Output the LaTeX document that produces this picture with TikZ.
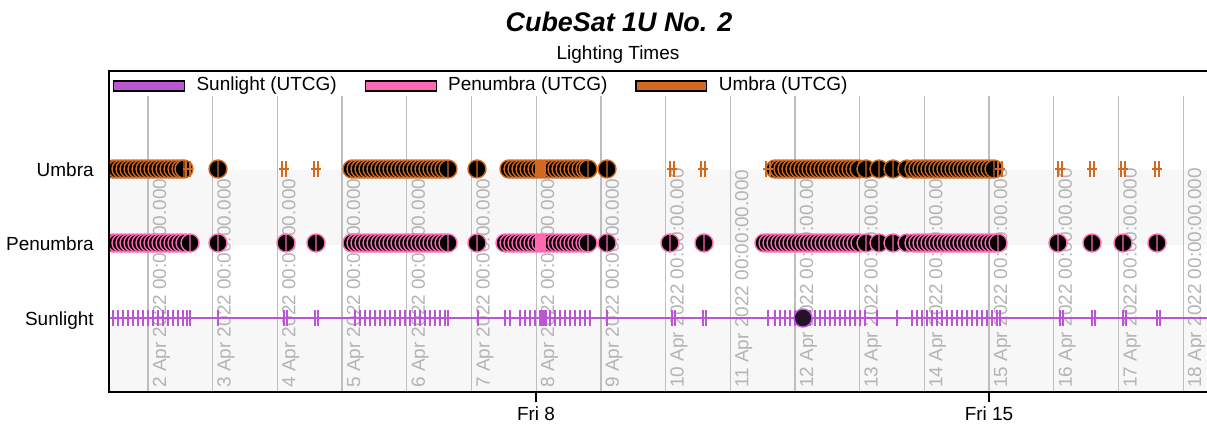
\documentclass[tikz,border=0pt]{standalone}
\usepackage{fontspec}
\setmainfont{Liberation Sans}
\usetikzlibrary{positioning}
\definecolor{suncol}{HTML}{BA55D3}
\definecolor{pencol}{HTML}{FF69B4}
\definecolor{umbcol}{HTML}{D2691E}
\definecolor{bandgray}{HTML}{F7F7F7}
\definecolor{gridgray}{HTML}{BEBEBE}
\definecolor{labgray}{HTML}{B4B4B4}
\begin{document}
\begin{tikzpicture}[x=0.02cm,y=-0.02cm,
	every node/.style={font=\fontsize{10.8}{13}\selectfont},
	umbdot/.style={draw=umbcol,fill=black,line width=0.8pt},
	pendot/.style={draw=pencol,fill=black,line width=0.8pt},
	suntick/.style={suncol,line width=0.9pt},
	umbtick/.style={umbcol,line width=0.7pt},
	keybox/.style={draw=black,line width=0.7pt,minimum width=1.42cm,minimum height=0.2cm,inner sep=0pt},
	datelabel/.style={rotate=90,anchor=base west,inner sep=0pt,text=labgray}]
	\useasboundingbox (0,0) rectangle (1207,426);
	% titles
	\node (Title) at (619,22) {\fontsize{15.3}{18}\selectfont\bfseries\itshape CubeSat 1U No. 2};
	\node (SubTitle) at (618,55) {Lighting Times};
	% legend
	\node[keybox,fill=suncol,anchor=west] (SunKey) at (113,86) {};
	\node[right=0.22cm of SunKey,inner sep=0pt] (SunText) {Sunlight (UTCG)};
	\node[keybox,fill=pencol,right=0.55cm of SunText] (PenKey) {};
	\node[right=0.22cm of PenKey,inner sep=0pt] (PenText) {Penumbra (UTCG)};
	\node[keybox,fill=umbcol,right=0.55cm of PenText] (UmbKey) {};
	\node[right=0.22cm of UmbKey,inner sep=0pt] (UmbText) {Umbra (UTCG)};
	% bands and day grid
	\fill[bandgray] (109,170) rectangle (1207,245);
	\fill[bandgray] (109,318) rectangle (1207,392);
	\foreach \Day [count=\i from 0] in {2,...,18}{
		\draw[gridgray,line width=0.7pt] ({148+64.7*\i},96) -- ({148+64.7*\i},392);
		\node[datelabel] (Day\Day) at ({166+64.7*\i},388) {\Day\ Apr 2022 00:00:00.000};
	}
	% row labels
	\node[anchor=base east,inner sep=0pt] (UmbraLbl) at (94,176) {Umbra};
	\node[anchor=base east,inner sep=0pt] (PenumbraLbl) at (94,250) {Penumbra};
	\node[anchor=base east,inner sep=0pt] (SunlightLbl) at (94,325) {Sunlight};
	\begin{scope}
		\clip (109,71) rectangle (1207,392);
		% Umbra
		\foreach \x in {113,117,...,181,184,218,352,356,...,444,448,477,509,513,...,585,588,607,775,779,...,859,866,879,893,907,914,918,...,994}
			{\draw[umbdot] (\x,169) circle (9) (\x,161) -- (\x,177);}
		\foreach \x in {188,284,316,672,703,768,1000,1060,1092,1123,1157}
			{\draw[umbtick] ({\x-2},161) -- ({\x-2},177) ({\x+2},161) -- ({\x+2},177) ({\x-5},169) -- ({\x+5},169);}
		\fill[umbcol] (535,161) rectangle (546,177);
		% Penumbra
		\foreach \x in {113,117,...,185,190,218,286,316,352,356,...,444,448,477,505,509,...,585,588,607,670,704,764,768,...,860,866,879,893,907,914,918,...,994,998,1058,1092,1123,1157}
			{\draw[pendot] (\x,243) circle (9) (\x,235) -- (\x,251);}
		\fill[pencol] (535,235) rectangle (546,251);
		% Sunlight
		\draw[suncol,line width=1.2pt] (109,318) -- (1207,318);
		\foreach \x in {113,118,...,183,187,190,218,284,287,315,318,355,360,...,445,448,478,505,510,520,525,...,585,590,607,672,675,703,706,768,775,780,...,860,865,877,897,912,917,...,997,1000,1060,1063,1092,1095,1123,1126,1157,1160}
			{\draw[suntick] (\x,310) -- (\x,326);}
		\fill[suncol] (540,310) rectangle (547,326);
		\draw[suncol,fill=black!80!suncol,line width=0.8pt] (803,318) circle (9);
	\end{scope}
	% frame and time axis
	\draw[line width=0.85pt] (1207,71) -- (109,71) -- (109,392) -- (1207,392);
	\draw[line width=0.7pt] (536,392) -- (536,402);
	\draw[line width=0.7pt] (989,392) -- (989,402);
	\node[anchor=north,inner sep=0pt] (Fri8) at (536,406) {Fri 8};
	\node[anchor=north,inner sep=0pt] (Fri15) at (989,406) {Fri 15};
\end{tikzpicture}
\end{document}
